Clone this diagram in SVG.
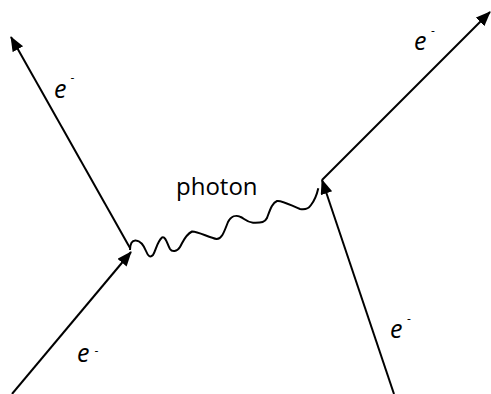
<svg xmlns="http://www.w3.org/2000/svg" width="491" height="394" viewBox="0 0 491 394">
<style>
.ln{stroke:#000;stroke-width:2;fill:none}
.e{font-family:"Open Sans","Liberation Sans",sans-serif;font-style:italic;font-size:25px;fill:#000}
.m{font-family:"Open Sans","Liberation Sans",sans-serif;font-size:12px;fill:#000}
.lbl{font-family:"Open Sans","Liberation Sans",sans-serif;font-size:24px;fill:#000}
</style>
<defs>
<marker id="ah" markerUnits="userSpaceOnUse" markerWidth="16" markerHeight="14" refX="14" refY="6" orient="auto">
<path d="M0,0 L15,6 L0,12 z" fill="#000"/>
</marker>
</defs>
<rect width="491" height="394" fill="#fff"/>
<g id="connectors">
<line class="ln" x1="12" y1="394" x2="131" y2="252" marker-end="url(#ah)"/>
<line class="ln" x1="130" y1="248" x2="11" y2="37" marker-end="url(#ah)"/>
<line class="ln" x1="394" y1="394" x2="322" y2="180" marker-end="url(#ah)"/>
<line class="ln" x1="322" y1="180" x2="490" y2="12" marker-end="url(#ah)"/>
<path id="photon-line" class="ln" d="M130,250 C130,244 132,240 136,240.5 C141,241 144,246 146,251 C148,256 150,258 153,255 C156,250 157,242 162,237.5 C166,236 167,244 170,249 C172,252 177,252 180,247 C183,242 185,235 192,231.5 C197,231 210,238 216.7,239 C222,239 224,232 228,222 C231,216 236,215 240,216.7 C244,218 246,222 253,222.7 C262,223 265,222 267,218 C270,210 272,203 277,201 C282,200 292,206 300,209 C305,210 309,208 311,205 C315,200 317,194 318.3,188.3"/>
</g>
<g id="label-photon"><text class="lbl" x="176" y="195">photon</text></g>
<g id="label-e-ul"><text class="e" x="54" y="98">e</text><text class="m" x="70.5" y="82">-</text></g>
<g id="label-e-ur"><text class="e" x="414" y="50">e</text><text class="m" x="431" y="35">-</text></g>
<g id="label-e-ll"><text class="e" x="77" y="362">e</text><text class="m" x="94.5" y="355">-</text></g>
<g id="label-e-lr"><text class="e" x="390" y="338">e</text><text class="m" x="407" y="323">-</text></g>
</svg>
